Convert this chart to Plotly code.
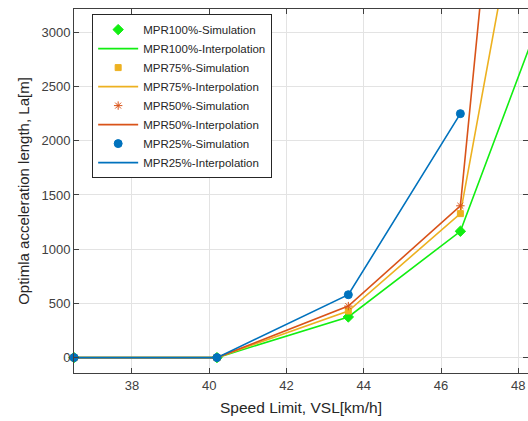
import plotly.graph_objects as go

speed = [36.5, 40.2, 43.6, 46.5, 50.0]
mpr100 = [0, 0, 375, 1165, 4490]
mpr75 = [0, 0, 430, 1328, 8135]
mpr50 = [0, 0, 475, 1400, 14105]
speed25 = [36.5, 40.2, 43.6, 46.5]
mpr25 = [0, 0, 580, 2250]

series = [
    ("MPR100%", speed, mpr100, "#11ee11", "diamond", 8),
    ("MPR75%", speed, mpr75, "#EDB120", "square", 6),
    ("MPR50%", speed, mpr50, "#D95319", "asterisk-open", 7),
    ("MPR25%", speed25, mpr25, "#0072BD", "circle", 8),
]

fig = go.Figure()
for name, xs, ys, col, sym, sz in series:
    fig.add_trace(go.Scatter(x=xs, y=ys, mode="markers", name=name + "-Simulation",
                             marker=dict(symbol=sym, size=sz, color=col,
                                         line=dict(color=col, width=1)),
                             cliponaxis=False))
    fig.add_trace(go.Scatter(x=xs, y=ys, mode="lines", name=name + "-Interpolation",
                             line=dict(color=col, width=1.6)))

axis_common = dict(showgrid=True, gridcolor="#e3e3e3", gridwidth=1,
                   showline=True, linecolor="#404040", linewidth=1,
                   ticks="inside", ticklen=5, tickcolor="#404040",
                   mirror="ticks", zeroline=False,
                   tickfont=dict(family="Liberation Sans, Arial", size=13, color="#404040"))

fig.update_layout(
    width=528, height=421,
    margin=dict(l=74, r=0, t=9, b=48),
    paper_bgcolor="white", plot_bgcolor="white",
    showlegend=True,
    legend=dict(x=0.04, y=0.986, xanchor="left", yanchor="top",
                bgcolor="white", bordercolor="#262626", borderwidth=1,
                font=dict(family="Liberation Sans, Arial", size=11.5, color="#262626"),
                tracegroupgap=0, itemwidth=40),
    xaxis=dict(range=[36.5, 48.25], tickvals=[38, 40, 42, 44, 46, 48],
               title=dict(text="Speed Limit, VSL[km/h]", standoff=10,
                          font=dict(family="Liberation Sans, Arial", size=15.5, color="#262626")),
               **axis_common),
    yaxis=dict(range=[-142, 3215], tickvals=[0, 500, 1000, 1500, 2000, 2500, 3000],
               title=dict(text="Optimla acceleration length, La[m]", standoff=8,
                          font=dict(family="Liberation Sans, Arial", size=15, color="#262626")),
               **axis_common),
)

fig.write_html("out.html")
